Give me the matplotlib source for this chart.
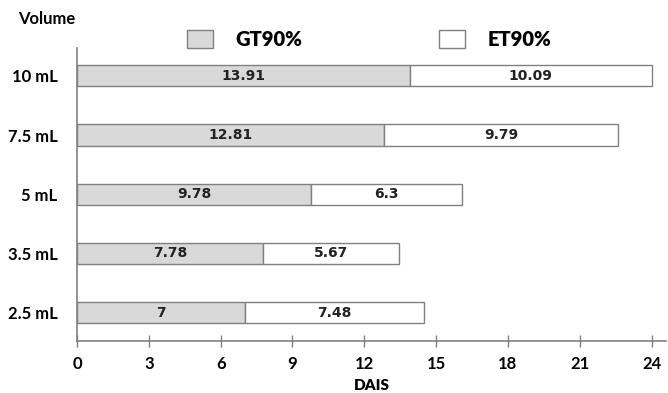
import matplotlib
matplotlib.use("Agg")
import matplotlib.pyplot as plt
from matplotlib.patches import Patch

# volumenes de aplicacion y resultados (DAIS)
volumenes = ["2.5 mL", "3.5 mL", "5 mL", "7.5 mL", "10 mL"]
gt90 = [7, 7.78, 9.78, 12.81, 13.91]
et90 = [7.48, 5.67, 6.3, 9.79, 10.09]
xticks = [0, 3, 6, 9, 12, 15, 18, 21, 24]

gris = "#d9d9d9"
borde = "#808080"
fuente = "Lato"

fig = plt.figure(figsize=(6.68, 3.93), dpi=100)
ax = fig.add_axes([0.1153, 0.1323, 0.8817, 0.7455])

pos = range(len(volumenes))
b1 = ax.barh(pos, gt90, height=0.36, color=gris, edgecolor=borde, linewidth=1)
b2 = ax.barh(pos, et90, left=gt90, height=0.36, color="white", edgecolor=borde, linewidth=1)

for barras in (b1, b2):
    for r in barras:
        ax.text(r.get_x() + r.get_width() / 2, r.get_y() + r.get_height() / 2,
                f"{r.get_width():g}", ha="center", va="center",
                fontsize=10, fontweight="bold", color="#222222", family="DejaVu Sans")

ax.set_xlim(0, 24.6)
ax.set_ylim(-0.48, 4.47)
ax.set_xticks(xticks)
ax.set_xticklabels([str(t) for t in xticks], fontsize=12, fontweight="bold", family=fuente)
ax.set_yticks(list(pos))
ax.set_yticklabels(volumenes, fontsize=12, fontweight="bold", family=fuente)
ax.tick_params(axis="y", length=0, pad=14)
ax.tick_params(axis="x", direction="inout", length=9, width=1, color=borde, pad=6)

for s in ("top", "right"):
    ax.spines[s].set_visible(False)
for s in ("left", "bottom"):
    ax.spines[s].set_color(borde)
    ax.spines[s].set_linewidth(1.2)

ax.set_xlabel("DAIS", fontsize=11, fontweight="heavy", family=fuente, labelpad=5)
fig.text(0.027, 0.952, "Volume", fontsize=12, fontweight="bold", family=fuente, va="center")

handles = [Patch(facecolor=gris, edgecolor=borde), Patch(facecolor="white", edgecolor=borde)]
fig.legend(handles, ["GT90%", "ET90%"], ncol=2, loc="center", bbox_to_anchor=(0.5525, 0.9),
           frameon=False, prop={"family": fuente, "weight": "heavy", "size": 14.5},
           handlelength=1.29, handleheight=1.0, handletextpad=1.15, columnspacing=6.75)

fig.savefig("out.png", dpi=100)
